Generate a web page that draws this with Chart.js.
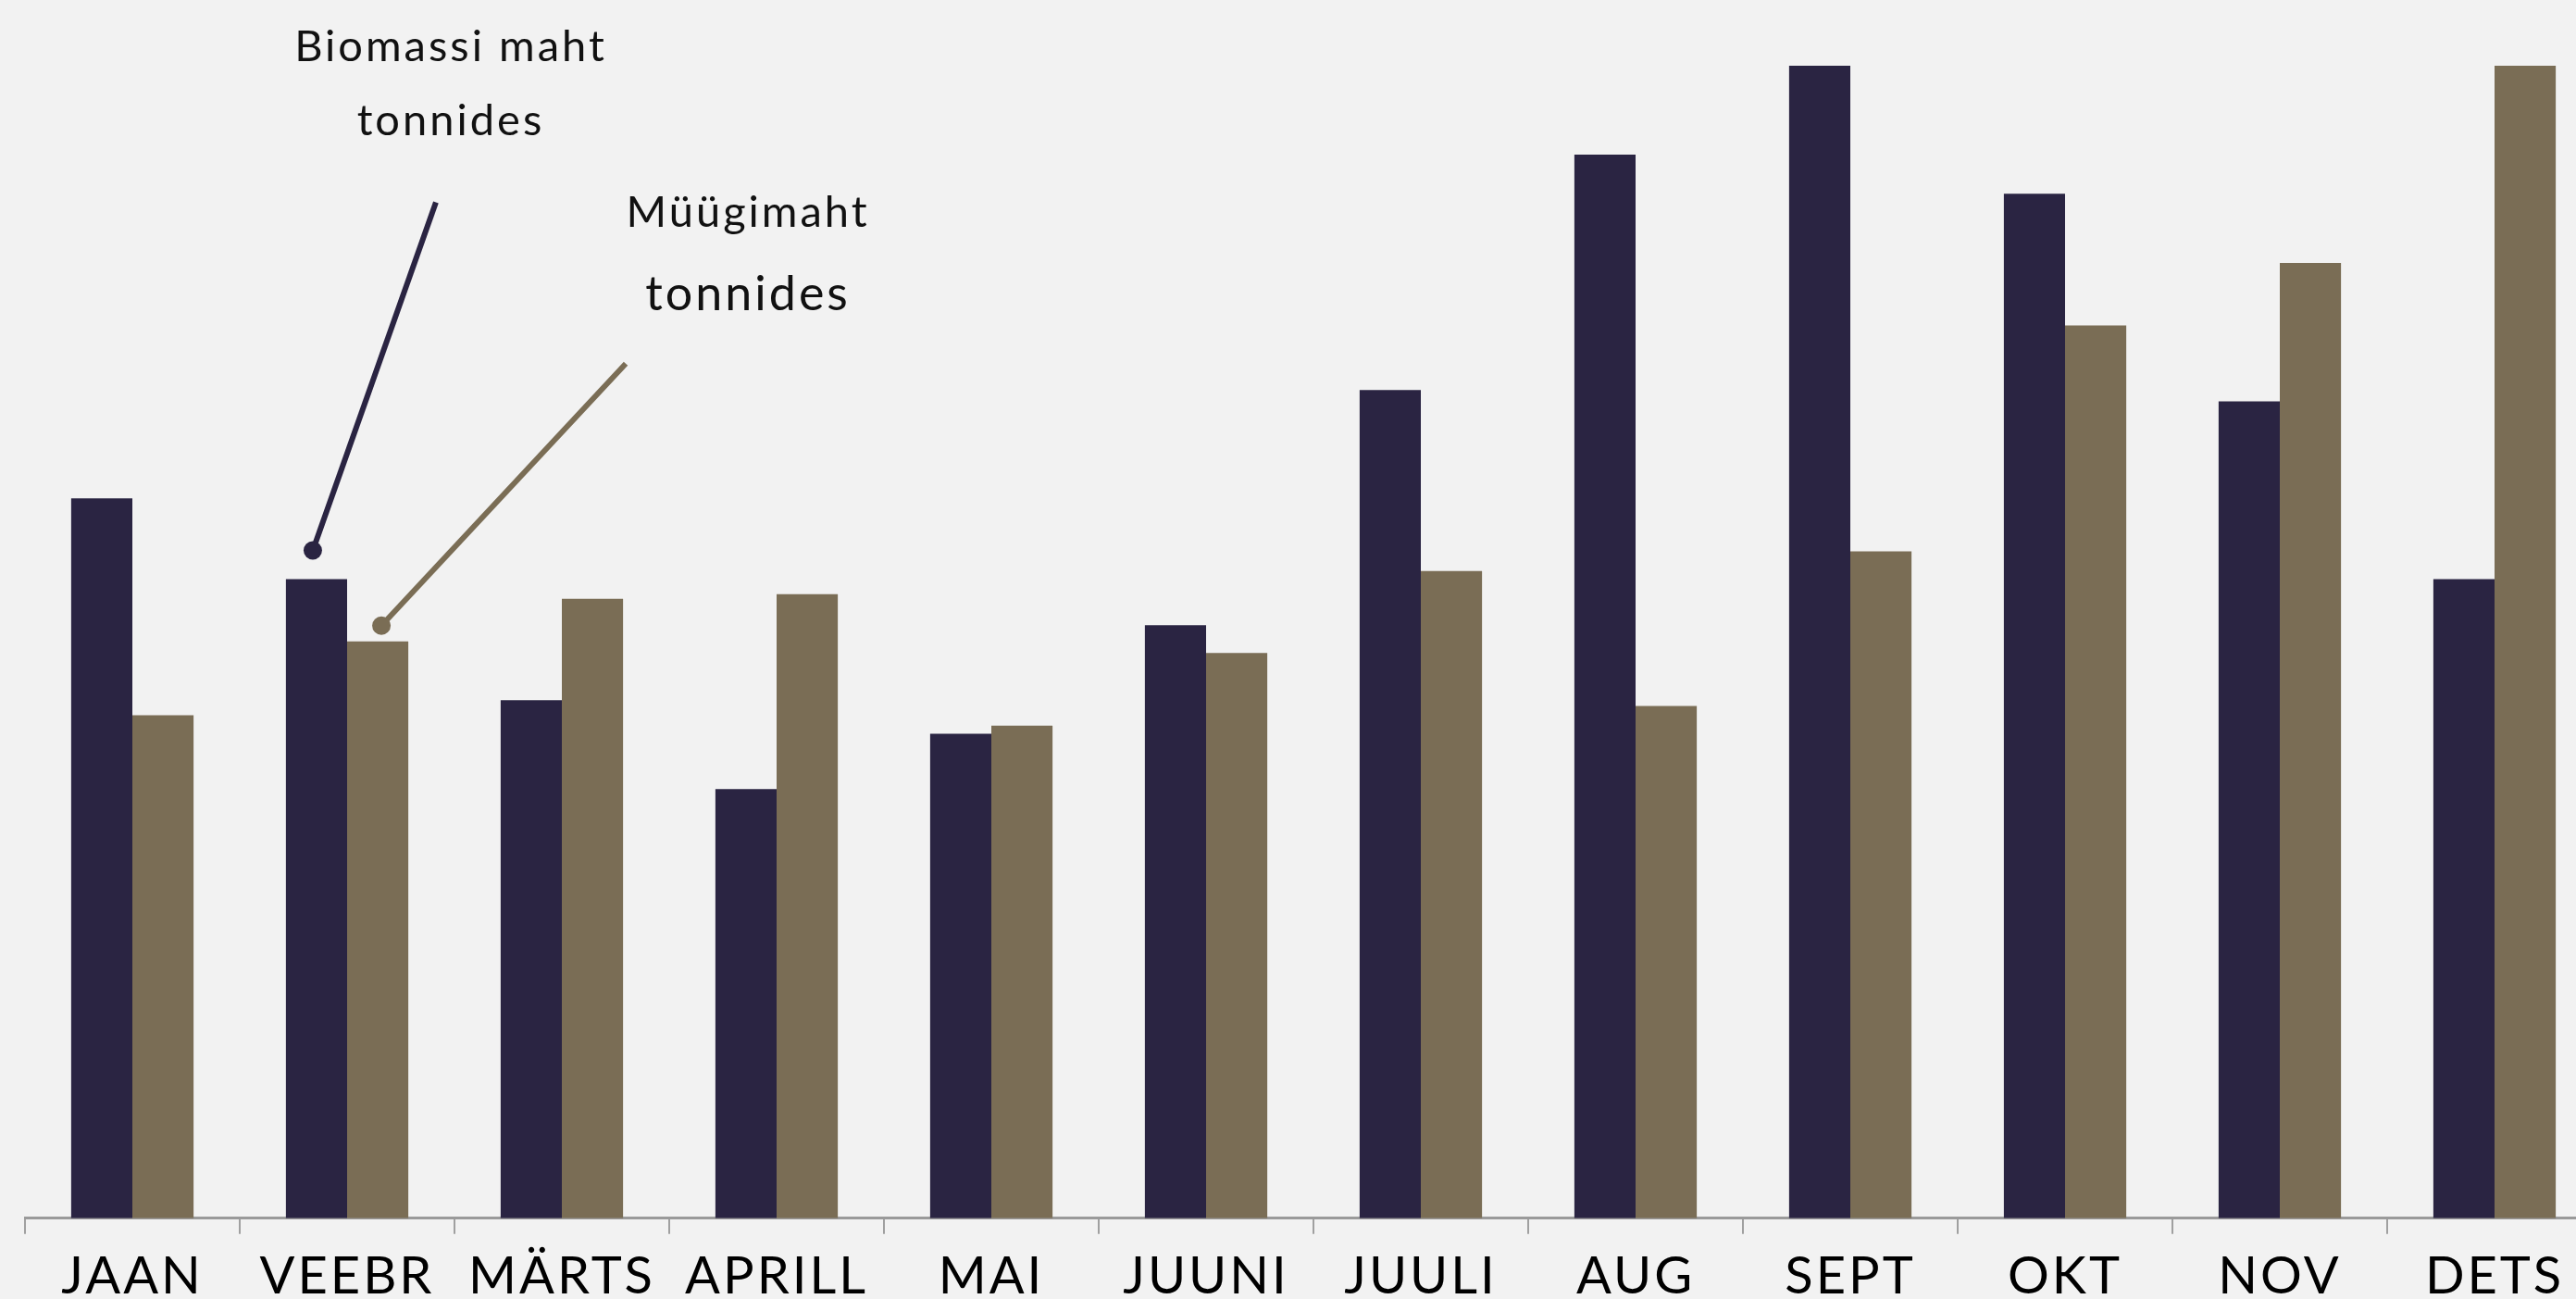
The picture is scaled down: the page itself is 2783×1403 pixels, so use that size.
<!DOCTYPE html>
<html>
<head>
<meta charset="utf-8">
<script src="https://cdn.jsdelivr.net/npm/chart.js@4.4.1/dist/chart.umd.min.js"></script>
<style>
  html, body { margin: 0; padding: 0; background: #f2f2f2; overflow: hidden; }
  #wrap { position: relative; width: 2811px; height: 1426px; }
</style>
</head>
<body>
<div id="wrap"><canvas id="barChart"></canvas></div>
<script>
// kuud
const months = ['JAAN', 'VEEBR', 'MÄRTS', 'APRILL', 'MAI', 'JUUNI', 'JUULI', 'AUG', 'SEPT', 'OKT', 'NOV', 'DETS']
// biomassi maht tonnides
const biomass = [62.4, 55.4, 44.9, 37.2, 42.0, 51.4, 71.8, 92.2, 99.9, 88.8, 70.8, 55.4]
// müügimaht tonnides
const sales = [43.6, 50.0, 53.7, 54.1, 42.7, 49.0, 56.1, 44.4, 57.8, 77.4, 82.8, 99.9]

const darkColor = '#2a2442'
const brownColor = '#7a6d55'

// wider letter spacing for the axis labels
const spacing = {
    id: 'spacing',
    beforeLayout(chart) { chart.ctx.letterSpacing = '3px' },
    beforeDraw(chart) { chart.ctx.letterSpacing = '3px' }
}

// callout labels pointing at the VEEBR bars
const callouts = {
    id: 'callouts',
    afterDatasetsDraw(chart) {
        const ctx = chart.ctx
        const b1 = chart.getDatasetMeta(0).data[1]
        const b2 = chart.getDatasetMeta(1).data[1]
        ctx.save()
        ctx.lineWidth = 6
        ctx.textAlign = 'center'
        ctx.textBaseline = 'alphabetic'
        ctx.letterSpacing = '3px'

        // biomass
        let dx = b1.x - 4, dy = b1.y - 31
        ctx.strokeStyle = darkColor
        ctx.beginPath()
        ctx.moveTo(dx, dy)
        ctx.lineTo(dx + 133, dy - 376)
        ctx.stroke()
        ctx.fillStyle = darkColor
        ctx.beginPath()
        ctx.arc(dx, dy, 10, 0, Math.PI * 2)
        ctx.fill()
        ctx.fillStyle = '#111'
        ctx.font = '47px Lato'
        ctx.fillText('Biomassi maht', dx + 149, dy - 529)
        ctx.fillText('tonnides', dx + 149, dy - 449)

        // sales
        dx = b2.x + 4
        dy = b2.y - 17
        ctx.strokeStyle = brownColor
        ctx.beginPath()
        ctx.moveTo(dx, dy)
        ctx.lineTo(dx + 264, dy - 283)
        ctx.stroke()
        ctx.fillStyle = brownColor
        ctx.beginPath()
        ctx.arc(dx, dy, 10, 0, Math.PI * 2)
        ctx.fill()
        ctx.fillStyle = '#111'
        ctx.font = '47px Lato'
        ctx.fillText('Müügimaht', dx + 396, dy - 431)
        ctx.font = '52px Lato'
        ctx.fillText('tonnides', dx + 396, dy - 341)
        ctx.restore()
    }
}

const MyChart = document.getElementById('barChart').getContext('2d')

const volumeChart = new Chart(MyChart, {
    type: 'bar',
    data: {
        labels: months,
        datasets: [{
            label: 'Biomassi maht tonnides',
            data: biomass,
            backgroundColor: darkColor,
            borderWidth: 0
        }, {
            label: 'Müügimaht tonnides',
            data: sales,
            backgroundColor: brownColor,
            borderWidth: 0
        }]
    },
    options: {
        responsive: true,
        maintainAspectRatio: false,
        devicePixelRatio: 1,
        animation: false,
        layout: {
            padding: { left: 27, right: 0, top: 0, bottom: 0 }
        },
        datasets: {
            bar: { categoryPercentage: 0.57, barPercentage: 1 }
        },
        plugins: {
            legend: { display: false },
            tooltip: { enabled: false },
            title: { display: false }
        },
        scales: {
            x: {
                grid: {
                    drawOnChartArea: false,
                    drawTicks: true,
                    tickLength: 17,
                    color: '#a0a0a0',
                    lineWidth: 2
                },
                border: { color: '#9a9a9a', width: 3 },
                ticks: {
                    color: '#000',
                    padding: 13,
                    maxRotation: 0,
                    autoSkip: false,
                    font: { family: 'Lato', size: 56, lineHeight: 1.2 }
                }
            },
            y: {
                display: false,
                min: 0,
                max: 105.6
            }
        }
    },
    plugins: [spacing, callouts]
})
</script>
</body>
</html>
